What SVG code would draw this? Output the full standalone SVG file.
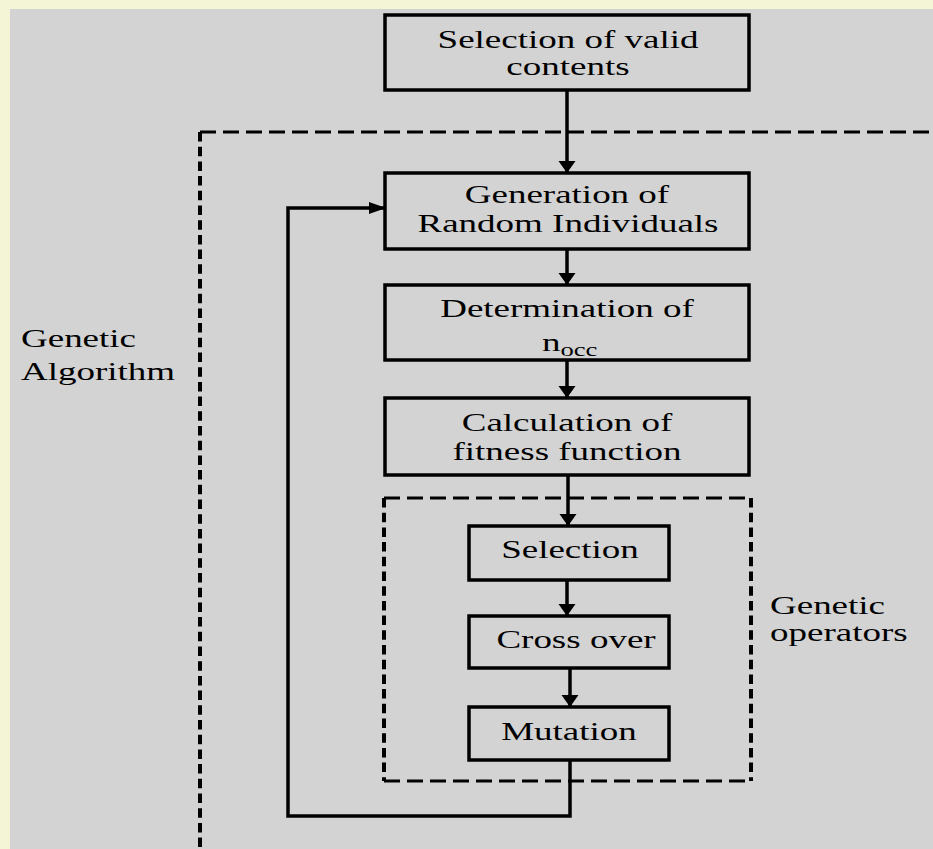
<svg xmlns="http://www.w3.org/2000/svg" width="933" height="849" viewBox="0 0 933 849">
<style>
.box{fill:none;stroke:#000;stroke-width:3.5}
.t{font-family:"Liberation Serif","Times New Roman",serif;font-size:25px;fill:#000}
.c{text-anchor:middle}
.ln{fill:none;stroke:#000;stroke-width:3.5}
.dh{fill:none;stroke:#000;stroke-width:3;stroke-dasharray:16 7}
.dv{fill:none;stroke:#000;stroke-width:4;stroke-dasharray:9.5 5.2}
</style>
<defs>
<marker id="ad" markerUnits="userSpaceOnUse" markerWidth="12" markerHeight="18" refX="12" refY="8.5" orient="auto" viewBox="0 0 12 17"><path d="M0,0 L12,8.5 L0,17 Z" fill="#000"/></marker>
<marker id="ar" markerUnits="userSpaceOnUse" markerWidth="17" markerHeight="12" refX="17" refY="6" orient="auto" viewBox="0 0 17 12"><path d="M0,0 L17,6 L0,12 Z" fill="#000"/></marker>
</defs>
<rect x="0" y="0" width="933" height="849" fill="#f4f4d7"/>
<rect x="10" y="9" width="923" height="840" fill="#d3d3d3"/>

<g id="genetic-algorithm-frame">
<path class="dh" d="M200,132 H933"/>
<path class="dv" d="M200,132 V849"/>
<text class="t" transform="translate(21,347) scale(1.48,1)">Genetic</text>
<text class="t" transform="translate(21,380) scale(1.48,1)">Algorithm</text>
</g>

<g id="genetic-operators-frame">
<path class="dh" d="M384,498 H751 M384,781 H751"/>
<path class="dv" d="M384,498 V781 M751,498 V781"/>
<text class="t" transform="translate(770,614) scale(1.48,1)">Genetic</text>
<text class="t" transform="translate(770,641) scale(1.48,1)">operators</text>
</g>

<g id="connectors">
<path class="ln" d="M567,90 V173" marker-end="url(#ad)"/>
<path class="ln" d="M567,249 V285" marker-end="url(#ad)"/>
<path class="ln" d="M567,360 V398" marker-end="url(#ad)"/>
<path class="ln" d="M568,475 V526" marker-end="url(#ad)"/>
<path class="ln" d="M567,580 V616" marker-end="url(#ad)"/>
<path class="ln" d="M570,668 V707" marker-end="url(#ad)"/>
<path class="ln" d="M570,760 V816 H288 V208 H386" stroke-linejoin="miter" marker-end="url(#ar)"/>
</g>

<g id="selection-valid-contents">
<rect class="box" x="385" y="15" width="364" height="75"/>
<text class="t c" transform="translate(568,48) scale(1.48,1)">Selection of valid</text>
<text class="t c" transform="translate(568,75) scale(1.48,1)">contents</text>
</g>

<g id="generation-random-individuals">
<rect class="box" x="385" y="173" width="364" height="76"/>
<text class="t c" transform="translate(567,203) scale(1.48,1)">Generation of</text>
<text class="t c" transform="translate(568,232) scale(1.48,1)">Random Individuals</text>
</g>

<g id="determination-nocc">
<rect class="box" x="385" y="285" width="364" height="75"/>
<text class="t c" transform="translate(567,317) scale(1.48,1)">Determination of</text>
<text class="t" transform="translate(542,351) scale(1.48,1)">n<tspan font-size="18" dy="5">occ</tspan></text>
</g>

<g id="calculation-fitness">
<rect class="box" x="385" y="398" width="364" height="77"/>
<text class="t c" transform="translate(567,431) scale(1.48,1)">Calculation of</text>
<text class="t c" transform="translate(567,460) scale(1.48,1)">fitness function</text>
</g>

<g id="selection">
<rect class="box" x="469" y="526" width="200" height="54"/>
<text class="t c" transform="translate(570,558) scale(1.48,1)">Selection</text>
</g>

<g id="cross-over">
<rect class="box" x="469" y="616" width="200" height="52"/>
<text class="t c" transform="translate(576,648) scale(1.48,1)">Cross over</text>
</g>

<g id="mutation">
<rect class="box" x="469" y="707" width="200" height="53"/>
<text class="t c" transform="translate(569,740) scale(1.48,1)">Mutation</text>
</g>
</svg>
